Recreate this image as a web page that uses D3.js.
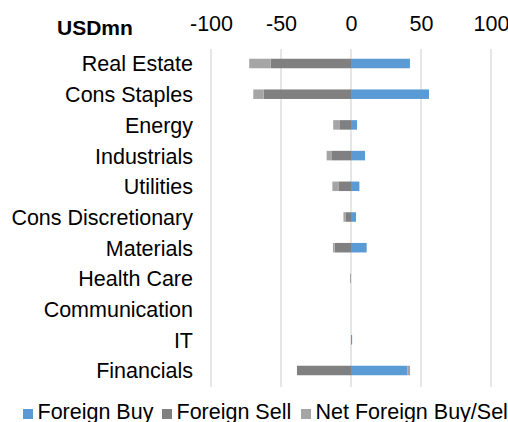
<!DOCTYPE html>
<html>
<head>
<meta charset="utf-8">
<script src="https://cdn.jsdelivr.net/npm/d3@7"></script>
<style>
  body { margin: 0; background: #fff; overflow: hidden; }
  text { font-family: "Liberation Sans", Arial, sans-serif; fill: #000; }
</style>
</head>
<body>
<div id="chart"></div>
<script>
const sectors = ["Real Estate", "Cons Staples", "Energy", "Industrials", "Utilities",
    "Cons Discretionary", "Materials", "Health Care", "Communication", "IT", "Financials"];
const foreignBuy = [42.1, 55.7, 4.3, 10, 6, 3.6, 11.2, 0, 0, 0.8, 40.2];
const foreignSell = [-57.4, -62.4, -7.9, -13.6, -9, -4, -11.7, 0, 0, 0, -38.6];
const netBuySell = [-15.3, -7.4, -4.8, -3.8, -4.3, -1.4, -1.2, -0.7, 0, 0, 2];
const xTicks = [-100, -50, 0, 50, 100];
const seriesNames = ["Foreign Buy", "Foreign Sell", "Net Foreign Buy/Sell"];
const seriesColors = ["#5b9bd5", "#808080", "#a5a5a5"];

const width = 508, height = 422;
const keys = ["buy", "sell", "net"];

const rows = sectors.map((s, i) => ({
    sector: s, buy: foreignBuy[i], sell: foreignSell[i], net: netBuySell[i]
}));

const stacked = d3.stack()
    .keys(keys)
    .offset(d3.stackOffsetDiverging)(rows);

const x = d3.scaleLinear()
    .domain([-100, 100])
    .range([211, 491]);

const y = d3.scaleBand()
    .domain(sectors)
    .range([48, 386])
    .paddingInner(0.69)
    .paddingOuter(0.35);

const svg = d3.select("#chart")
    .append("svg")
    .attr("width", width)
    .attr("height", height);

// gridlines
svg.append("g")
    .selectAll("line")
    .data(xTicks)
    .join("line")
    .attr("x1", d => x(d))
    .attr("x2", d => x(d))
    .attr("y1", 49)
    .attr("y2", 387)
    .attr("stroke", "#d9d9d9")
    .attr("stroke-width", 1.3);

// top axis labels
svg.append("g")
    .attr("transform", "translate(0,31)")
    .call(d3.axisTop(x).tickValues(xTicks).tickSize(0).tickPadding(0)
        .tickFormat(d => String(d)))
    .call(g => g.select(".domain").remove())
    .selectAll("text")
    .attr("font-family", "Liberation Sans, Arial, sans-serif")
    .attr("font-size", "21.5px")
    .attr("fill", "#000");

svg.append("text")
    .attr("x", 57)
    .attr("y", 35)
    .attr("font-size", "21px")
    .attr("font-weight", "bold")
    .text("USDmn");

// bars
svg.append("g")
    .selectAll("g")
    .data(stacked)
    .join("g")
    .attr("fill", (d, i) => seriesColors[i])
    .selectAll("rect")
    .data(d => d)
    .join("rect")
    .attr("x", d => x(Math.min(d[0], d[1])))
    .attr("y", d => y(d.data.sector))
    .attr("width", d => Math.abs(x(d[1]) - x(d[0])))
    .attr("height", y.bandwidth());

// category labels
svg.append("g")
    .selectAll("text")
    .data(sectors)
    .join("text")
    .attr("x", 193)
    .attr("y", d => y(d) + y.bandwidth() / 2)
    .attr("dy", "0.37em")
    .attr("text-anchor", "end")
    .attr("font-size", "21.5px")
    .text(d => d);

// legend
const legendX = [23, 162, 301];
const legend = svg.append("g")
    .selectAll("g")
    .data(seriesNames)
    .join("g")
    .attr("transform", (d, i) => `translate(${legendX[i]},409)`);

legend.append("rect")
    .attr("width", 10)
    .attr("height", 10)
    .attr("fill", (d, i) => seriesColors[i]);

legend.append("text")
    .attr("x", 14.5)
    .attr("y", 10)
    .attr("font-size", "21.5px")
    .text(d => d);
</script>
</body>
</html>
